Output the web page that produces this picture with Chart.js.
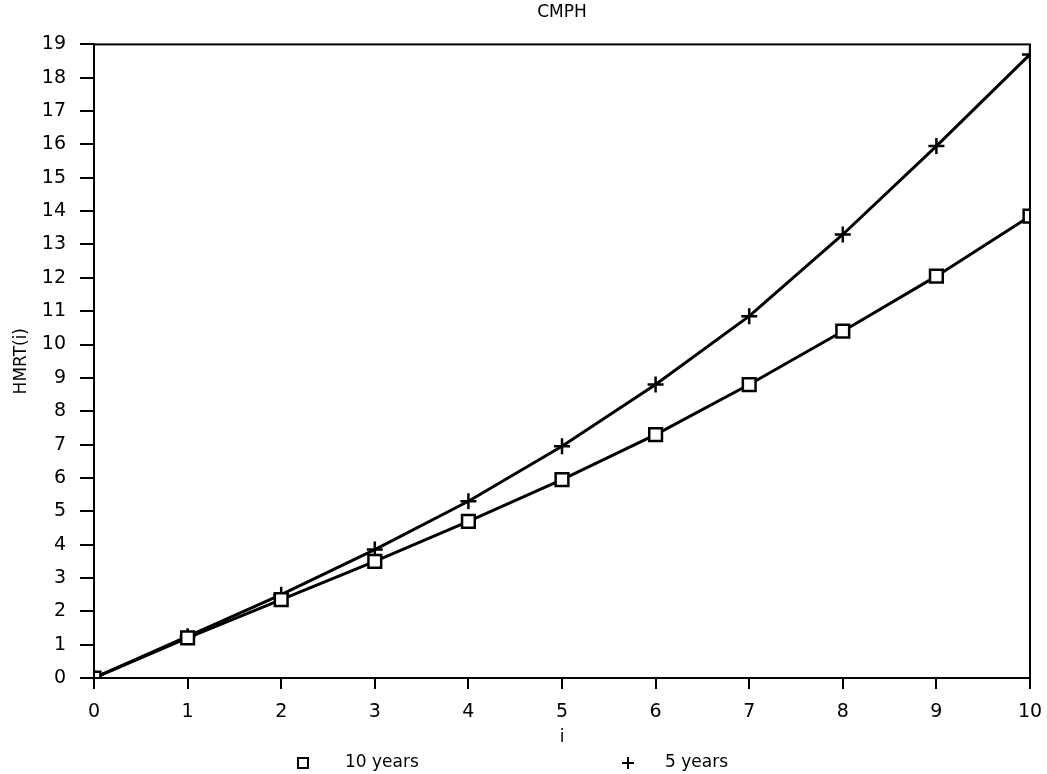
<!DOCTYPE html>
<html>
<head>
<meta charset="utf-8">
<title>CMPH</title>
<script src="https://cdn.jsdelivr.net/npm/chart.js@4.4.1/dist/chart.umd.min.js"></script>
<style>
  html, body { margin: 0; padding: 0; background: #fff; }
  #wrap { width: 1047px; height: 774px; }
</style>
</head>
<body>
<div id="wrap"><canvas id="chart"></canvas></div>
<script>
const iValues = [0, 1, 2, 3, 4, 5, 6, 7, 8, 9, 10];
const tenYears = [0, 1.2, 2.35, 3.5, 4.7, 5.95, 7.3, 8.8, 10.4, 12.05, 13.85];
const fiveYears = [0, 1.25, 2.5, 3.85, 5.3, 6.95, 8.8, 10.85, 13.3, 15.95, 18.7];

const FONT = "'DejaVu Sans', sans-serif";

function toPoints(ys) {
  return iValues.map((x, k) => ({ x: x, y: ys[k] }));
}

// full box round the plot plus the bottom legend
const framePlugin = {
  id: "frame",
  afterDraw(chart) {
    const { ctx, chartArea } = chart;
    ctx.save();
    ctx.strokeStyle = "#000";
    ctx.lineWidth = 2;
    ctx.strokeRect(chartArea.left, chartArea.top, chartArea.right - chartArea.left, chartArea.bottom - chartArea.top);

    const y = 763;
    ctx.font = "17px " + FONT;
    ctx.fillStyle = "#000";
    ctx.textBaseline = "middle";
    ctx.lineWidth = 2;
    // square marker
    ctx.strokeRect(298, y - 5, 10, 10);
    ctx.fillText(chart.data.datasets[0].label, 345, y);
    // plus marker
    ctx.beginPath();
    ctx.moveTo(622, y); ctx.lineTo(634, y);
    ctx.moveTo(628, y - 6); ctx.lineTo(628, y + 6);
    ctx.stroke();
    ctx.fillText(chart.data.datasets[1].label, 665, y);
    ctx.restore();
  }
};

new Chart(document.getElementById("chart"), {
  type: "line",
  data: {
    datasets: [
      {
        label: "10 years",
        data: toPoints(tenYears),
        borderColor: "#000",
        backgroundColor: "#fff",
        borderWidth: 3,
        pointStyle: "rect",
        pointRadius: 9,
        pointBorderWidth: 2.5,
        tension: 0
      },
      {
        label: "5 years",
        data: toPoints(fiveYears),
        borderColor: "#000",
        backgroundColor: "#000",
        borderWidth: 3,
        pointStyle: "cross",
        pointRadius: 8,
        pointBorderWidth: 2.5,
        tension: 0
      }
    ]
  },
  options: {
    responsive: true,
    maintainAspectRatio: false,
    animation: false,
    layout: { padding: { left: 0, right: 17, top: 0, bottom: 30 } },
    plugins: {
      legend: { display: false },
      tooltip: { enabled: false },
      title: {
        display: true,
        fullSize: false,
        text: "CMPH",
        color: "#000",
        font: { family: FONT, size: 17, weight: "normal" },
        padding: { top: 2, bottom: 22 }
      }
    },
    scales: {
      x: {
        type: "linear",
        min: 0,
        max: 10,
        afterFit(s) { s.height = 66; s.paddingRight = 0; s.paddingLeft = 0; },
        ticks: { stepSize: 1, color: "#000", padding: 12, font: { family: FONT, size: 19 } },
        grid: { drawOnChartArea: false, drawTicks: true, tickLength: 11, color: "#000", lineWidth: 2 },
        border: { display: true, color: "#000", width: 2 },
        title: { display: true, text: "i", color: "#000", padding: { top: 0, bottom: -4 }, font: { family: FONT, size: 17 } }
      },
      y: {
        type: "linear",
        min: 0,
        max: 19,
        afterFit(s) { s.width = 94; },
        ticks: { stepSize: 1, color: "#000", padding: 14, font: { family: FONT, size: 19 } },
        grid: { drawOnChartArea: false, drawTicks: true, tickLength: 14, color: "#000", lineWidth: 2 },
        border: { display: true, color: "#000", width: 2 },
        title: { display: true, text: "HMRT(i)", color: "#000", padding: { top: 11, bottom: 0 }, font: { family: FONT, size: 17 } }
      }
    }
  },
  plugins: [framePlugin]
});
</script>
</body>
</html>
